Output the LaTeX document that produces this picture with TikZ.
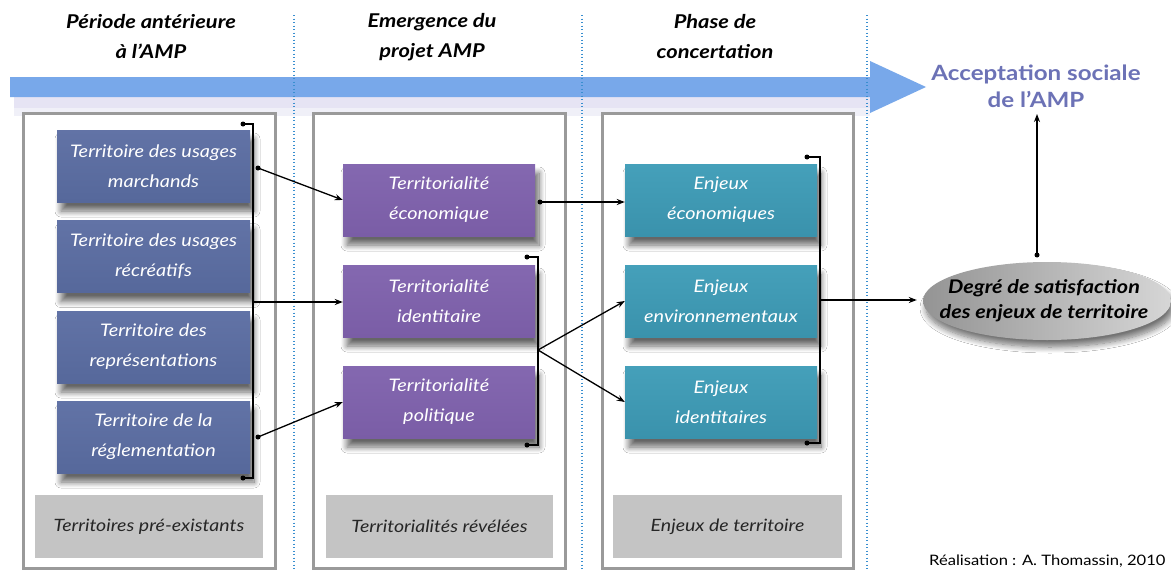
\documentclass[tikz,border=0pt]{standalone}
\usepackage{fontspec}
\setmainfont{Lato}[FakeStretch=1.15]
\usetikzlibrary{arrows.meta,shadows.blur,shapes.geometric}
\definecolor{bluebox}{HTML}{56689B}
\definecolor{bluetop}{HTML}{6273A6}
\definecolor{purplebox}{HTML}{7A5DA6}
\definecolor{purpletop}{HTML}{8468B0}
\definecolor{tealbox}{HTML}{3A92AC}
\definecolor{tealtop}{HTML}{45A0BA}
\definecolor{panelgray}{HTML}{9A9A9A}
\definecolor{labelgray}{HTML}{C4C4C4}
\definecolor{dotblue}{HTML}{3A8FD0}
\definecolor{bandblue}{HTML}{78A8EA}
\definecolor{accept}{HTML}{6C72B6}
\definecolor{lavender}{HTML}{B8B4E0}
\begin{document}
\begin{tikzpicture}[x=1pt,y=-1pt,
  panel/.style={draw=panelgray, line width=3pt, fill=white},
  tbox/.style={minimum width=193pt, minimum height=72pt, inner sep=0pt, align=center,
    text=white, font=\itshape\fontsize{17.3}{30}\selectfont,
    blur shadow={shadow xshift=4pt, shadow yshift=-9pt, shadow blur steps=10, shadow blur radius=6pt, shadow opacity=60}},
  bbox/.style={tbox, top color=bluetop, bottom color=bluebox},
  pbox/.style={tbox, top color=purpletop, bottom color=purplebox},
  ebox/.style={tbox, top color=tealtop, bottom color=tealbox},
  lbox/.style={fill=labelgray, minimum height=63pt, inner sep=0pt,
    font=\itshape\fontsize{17}{20}\selectfont, text=black!85},
  header/.style={align=center, font=\bfseries\itshape\fontsize{19}{30}\selectfont},
  sep/.style={draw=dotblue, line width=1.3pt, dash pattern=on 1.3pt off 2.2pt},
  conn/.style={line width=1.3pt, -{Stealth[length=8pt,width=6pt]}},
  brk/.style={line width=1.5pt},
  pt/.style={circle, fill=black, inner sep=0pt, minimum size=5pt}
]
\useasboundingbox (0,0) rectangle (1171,570);
\fill[white] (0,0) rectangle (1171,570);

% headers
\node[header] (h1) at (151,37) {Période antérieure\\à l'AMP};
\node[header] (h2) at (432,37) {Emergence du\\projet AMP};
\node[header] (h3) at (715,37) {Phase de\\concertation};

% big arrow
\fill[lavender, opacity=0.35] (14,97) rectangle (870,108);
\fill[lavender, opacity=0.2] (14,108) rectangle (870,116);
\fill[bandblue] (10,77) -- (870,77) -- (870,61) -- (926,87) -- (870,113) -- (870,97) -- (10,97) -- cycle;

\node[align=center, text=accept, font=\bfseries\fontsize{21}{27}\selectfont] (acc) at (1036,86) {Acceptation sociale\\de l'AMP};

% panels
\draw[panel] (23,113) rectangle (275,568);
\draw[panel] (313,113) rectangle (565,568);
\draw[panel] (602,113) rectangle (853,568);

% separators
\draw[sep] (294,15) -- (294,570);
\draw[sep] (582,15) -- (582,570);
\draw[sep] (867,15) -- (867,570);

% panel 1 boxes
\node[bbox] (t1) at (153.5,166) {Territoire des usages\\marchands};
\node[bbox] (t2) at (153.5,256.5) {Territoire des usages\\récréatifs};
\node[bbox] (t3) at (153.5,347) {Territoire des\\représentations};
\node[bbox] (t4) at (153.5,437) {Territoire de la\\réglementation};

% panel 2 boxes
\node[pbox, minimum width=192pt] (p1) at (439,200) {Territorialité\\économique};
\node[pbox, minimum width=192pt] (p2) at (439,301) {Territorialité\\identitaire};
\node[pbox, minimum width=192pt] (p3) at (439,402) {Territorialité\\politique};

% panel 3 boxes
\node[ebox, minimum width=192pt] (e1) at (721,200) {Enjeux\\économiques};
\node[ebox, minimum width=192pt] (e2) at (721,301) {Enjeux\\environnementaux};
\node[ebox, minimum width=192pt] (e3) at (721,402) {Enjeux\\identitaires};

% label boxes
\node[lbox, minimum width=228pt] (l1) at (149,526.5) {Territoires pré-existants};
\node[lbox, minimum width=227pt] (l2) at (439.5,526.5) {Territorialités révélées};
\node[lbox, minimum width=229pt] (l3) at (727.5,526.5) {Enjeux de territoire};

% ellipse
\node[ellipse, minimum width=248pt, minimum height=78pt, inner sep=0pt,
  left color=black!42, right color=black!16,
  blur shadow={shadow xshift=3pt, shadow yshift=-7pt, shadow blur steps=10, shadow blur radius=6pt, shadow opacity=55}]
  (deg) at (1047,301) {};
\node[align=center, font=\bfseries\itshape\fontsize{18.8}{25}\selectfont]
  (degtext) at (1044,301) {Degré de satisfaction\\des enjeux de territoire};

% brackets
\coordinate (b1t) at (243,124);
\coordinate (b1b) at (243,478);
\draw[brk] (b1t) -- (253,124) -- (253,478) -- (b1b);
\node[pt] at (b1t) {};
\node[pt] at (b1b) {};
\coordinate (b1m) at (253,302);

\coordinate (b2t) at (527,257);
\coordinate (b2b) at (527,445);
\draw[brk] (b2t) -- (538,257) -- (538,445) -- (b2b);
\node[pt] at (b2t) {};
\node[pt] at (b2b) {};
\coordinate (b2m) at (538,350);

\coordinate (b3t) at (807,157);
\coordinate (b3b) at (807,443);
\draw[brk] (b3t) -- (820,157) -- (820,443) -- (b3b);
\node[pt] at (b3t) {};
\node[pt] at (b3b) {};
\coordinate (b3m) at (820,300);

% connectors
\node[pt] (d1) at (258,168) {};
\node[pt] (d4) at (258,437) {};
\node[pt] (dp1) at (540,202) {};
\node[pt] (dd) at (1037,255) {};
\draw[conn] (d1.center) -- (p1.west);
\draw[conn] (b1m) -- (p2.west |- b1m);
\draw[conn] (d4.center) -- (p3.west);
\draw[conn] (dp1.center) -- (e1.west |- dp1);
\draw[conn] (b2m) -- (e2.west);
\draw[conn] (b2m) -- (e3.west);
\draw[conn] (b3m) -- ([xshift=-6pt]deg.west |- b3m);
\draw[conn] (dd.center) -- (1037,114);

% credit
\node[font=\fontsize{14.4}{16}\selectfont, anchor=east] (cr) at (1169,561) {Réalisation : A. Thomassin, 2010};
\end{tikzpicture}
\end{document}
